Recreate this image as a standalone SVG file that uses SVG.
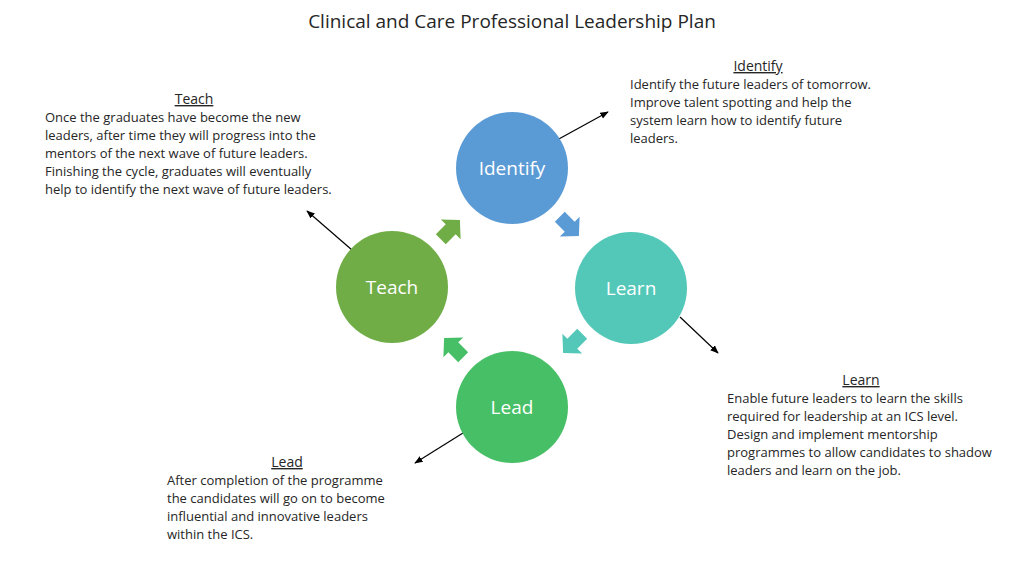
<svg xmlns="http://www.w3.org/2000/svg" width="1024" height="576" viewBox="0 0 1024 576">
<defs>
<style>
text{font-family:"Open Sans","Liberation Sans",sans-serif;fill:#262626}
.t{font-size:13px}
.h{font-size:14px;text-decoration:underline}
.c{font-size:19px;fill:#fff;text-anchor:middle}
.ln{stroke:#000;stroke-width:1.2;fill:none;marker-end:url(#ah)}
</style>
<marker id="ah" viewBox="0 0 10 10" refX="9" refY="5" markerWidth="7" markerHeight="7" orient="auto"><path d="M0,1 L10,5 L0,9 z" fill="#000"/></marker>
<polygon id="blk" points="-13,-7 1,-7 1,-14 14,0 1,14 1,7 -13,7"/>
</defs>
<rect width="1024" height="576" fill="#fff"/>
<text x="512" y="28" text-anchor="middle" style="font-size:19px">Clinical and Care Professional Leadership Plan</text>
<g id="connectors">
<use href="#blk" fill="#5b9bd5" transform="translate(569,226) rotate(45)"/>
<use href="#blk" fill="#53c8b8" transform="translate(573,343) rotate(135)"/>
<use href="#blk" fill="#47bf66" transform="translate(454,348) rotate(225)"/>
<use href="#blk" fill="#70ad47" transform="translate(450,230) rotate(-45)"/>
<line class="ln" x1="557" y1="140" x2="608" y2="112"/>
<line class="ln" x1="352" y1="250" x2="307" y2="211"/>
<line class="ln" x1="680" y1="317" x2="718" y2="353"/>
<line class="ln" x1="463" y1="433" x2="415" y2="463"/>
</g>
<g id="identify"><circle cx="512" cy="168" r="56" fill="#5b9bd5"/><text class="c" x="512" y="175">Identify</text></g>
<g id="learn"><circle cx="631" cy="288" r="56" fill="#53c8b8"/><text class="c" x="631" y="295">Learn</text></g>
<g id="lead"><circle cx="512" cy="407" r="56" fill="#47bf66"/><text class="c" x="512" y="414">Lead</text></g>
<g id="teach"><circle cx="392" cy="287" r="56" fill="#70ad47"/><text class="c" x="392" y="294">Teach</text></g>
<g id="identify-text">
<text class="h" x="758" y="71" text-anchor="middle">Identify</text>
<text class="t" x="630" y="89">Identify the future leaders of tomorrow.</text>
<text class="t" x="630" y="107">Improve talent spotting and help the</text>
<text class="t" x="630" y="125">system learn how to identify future</text>
<text class="t" x="630" y="143">leaders.</text>
</g>
<g id="teach-text">
<text class="h" x="194" y="104" text-anchor="middle">Teach</text>
<text class="t" x="45" y="122">Once the graduates have become the new</text>
<text class="t" x="45" y="140">leaders, after time they will progress into the</text>
<text class="t" x="45" y="158">mentors of the next wave of future leaders.</text>
<text class="t" x="45" y="176">Finishing the cycle, graduates will eventually</text>
<text class="t" x="45" y="194">help to identify the next wave of future leaders.</text>
</g>
<g id="learn-text">
<text class="h" x="861" y="385" text-anchor="middle">Learn</text>
<text class="t" x="727" y="403">Enable future leaders to learn the skills</text>
<text class="t" x="727" y="421">required for leadership at an ICS level.</text>
<text class="t" x="727" y="439">Design and implement mentorship</text>
<text class="t" x="727" y="457">programmes to allow candidates to shadow</text>
<text class="t" x="727" y="475">leaders and learn on the job.</text>
</g>
<g id="lead-text">
<text class="h" x="287" y="467" text-anchor="middle">Lead</text>
<text class="t" x="167" y="485">After completion of the programme</text>
<text class="t" x="167" y="503">the candidates will go on to become</text>
<text class="t" x="167" y="521">influential and innovative leaders</text>
<text class="t" x="167" y="539">within the ICS.</text>
</g>
</svg>
